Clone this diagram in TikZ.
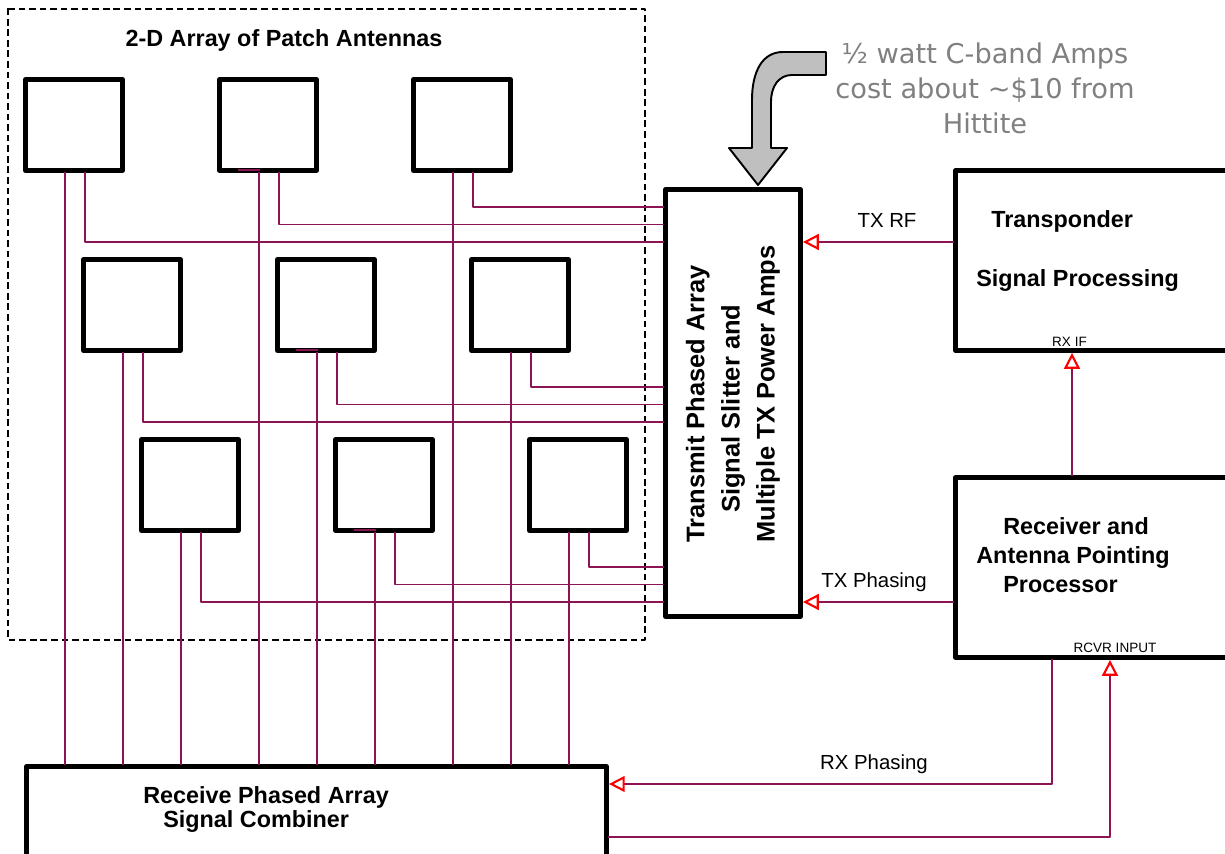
\documentclass[tikz,border=0pt]{standalone}
\usepackage{fontspec}
\setmainfont{Liberation Sans}
\newfontfamily\notefont{DejaVu Sans}
\usetikzlibrary{arrows.meta,positioning}

\definecolor{wirecol}{RGB}{140,20,85}
\definecolor{notegray}{RGB}{128,128,128}

\tikzset{
  patch/.style={draw, line width=2.8pt, minimum width=1.94cm,
    minimum height=1.82cm, inner sep=0pt},
  block/.style={draw, line width=2.8pt, inner sep=0pt},
  wire/.style={draw=wirecol, line width=1.1pt},
  sig/.style={wire, -{Triangle[open, color=red, length=9pt, width=9pt,
    line width=1.2pt]}},
  boldlbl/.style={font=\bfseries\fontsize{13.3}{16.4}\selectfont,
    inner sep=0pt},
  smalllbl/.style={font=\fontsize{11.6}{13}\selectfont, inner sep=0pt,
    anchor=base},
  tinylbl/.style={font=\fontsize{7.7}{9}\selectfont, inner sep=0pt,
    anchor=base}
}

\begin{document}
\begin{tikzpicture}[x=0.02cm, y=-0.02cm, line cap=rect, line join=round]
  \useasboundingbox (0,0) rectangle (1225,854);

  % ------------------ Layout (pixels) ------------------
  \def\colStep{194}
  \def\rowStep{180}
  \def\rowShift{58}

  % ------------------ Antenna array frame ------------------
  \draw[dashed, line width=0.8pt] (8,9) rectangle (645,640);
  \node[boldlbl, anchor=base] (arrtitle) at (284,47)
    {2-D Array of Patch Antennas};

  % ------------------ Blocks ------------------
  \node[block, minimum width=2.7cm, minimum height=8.54cm] (tx)
    at (733,403) {};
  \node[block, minimum width=5.69cm, minimum height=3.6cm] (tp)
    at (1097.75,260.5) {};
  \node[block, minimum width=5.69cm, minimum height=3.6cm] (rcv)
    at (1097.75,567.5) {};
  \node[block, minimum width=11.6cm, minimum height=2.07cm] (comb)
    at (316.5,818.25) {};

  \node[boldlbl, font=\bfseries\fontsize{14.5}{20}\selectfont, rotate=90,
    anchor=west, align=left] (txtext) at (733,543)
    {Transmit Phased Array\\\hspace*{0.6cm}Signal Slitter and\\
     Multiple TX Power Amps};
  \node[boldlbl, anchor=west, align=left] (tptext) at (976,251)
    {\hspace*{0.3cm}Transponder\\[17pt]Signal Processing};
  \node[boldlbl, anchor=west, align=left] (rcvtext) at (976,555)
    {\hspace*{0.54cm}Receiver and\\Antenna Pointing\\
     \hspace*{0.54cm}Processor};
  \node[boldlbl, font=\bfseries\fontsize{13.3}{14.2}\selectfont,
    anchor=west, align=left] (combtext) at (143,809.5)
    {Receive Phased Array\\\hspace*{0.4cm}Signal Combiner};

  % ------------------ Patch antennas and feeds ------------------
  \foreach \r in {0,1,2} {
    \foreach \c in {0,1,2} {
      \pgfmathsetmacro{\ax}{74+\r*\rowShift+\c*\colStep}
      \pgfmathsetmacro{\ay}{125+\r*\rowStep}
      \pgfmathsetmacro{\fy}{\ay+117-17.5*\c}
      \node[patch] (a\r\c) at (\ax,\ay) {};
      % receive feed
      \draw[wire] ([xshift=-0.18cm]a\r\c.south) --
        ([xshift=-0.18cm]a\r\c.south |- comb.north);
      % transmit feed
      \draw[wire] ([xshift=0.22cm]a\r\c.south) |- (tx.west |- 0,\fy);
      \ifnum\c=1
        \draw[wire] ([xshift=-0.58cm, yshift=0.05cm]a\r\c.south) --
          ([xshift=-0.18cm, yshift=0.05cm]a\r\c.south);
      \fi
    }
  }

  % ------------------ Signal paths ------------------
  \draw[sig] (tp.west |- 0,242) -- (tx.east |- 0,242);
  \node[smalllbl] (txrf) at (887,228) {TX RF};

  \draw[sig] (rcv.north -| 1072,0) -- (tp.south -| 1072,0);
  \node[tinylbl] (rxif) at (1069.5,347) {RX IF};

  \draw[sig] (rcv.west |- 0,602) -- (tx.east |- 0,602);
  \node[smalllbl] (txph) at (874,588) {TX Phasing};

  \draw[sig] (rcv.south -| 1052,0) |- (comb.east |- 0,784);
  \node[smalllbl] (rxph) at (874,770) {RX Phasing};

  \draw[sig] (comb.east |- 0,837) -| (rcv.south -| 1110,0);
  \node[tinylbl] (rcvrin) at (1115,653) {RCVR INPUT};

  % ------------------ Cost note ------------------
  \filldraw[fill=black!25, draw=black, line width=1.1pt]
    (826,52) -- (783,52) .. controls (762,52) and (752,72) .. (752,100)
    -- (752,148) -- (729,148) -- (758,185) -- (787,148) -- (771,148)
    -- (771,102) .. controls (771,86) and (779,75) .. (792,75)
    -- (826,75) -- cycle;
  \node[font=\notefont\fontsize{15.5}{20}\selectfont, text=notegray,
    align=center, inner sep=0pt] (note) at (985,88)
    {½ watt C-band Amps\\cost about \textasciitilde\$10 from\\Hittite};

\end{tikzpicture}
\end{document}
